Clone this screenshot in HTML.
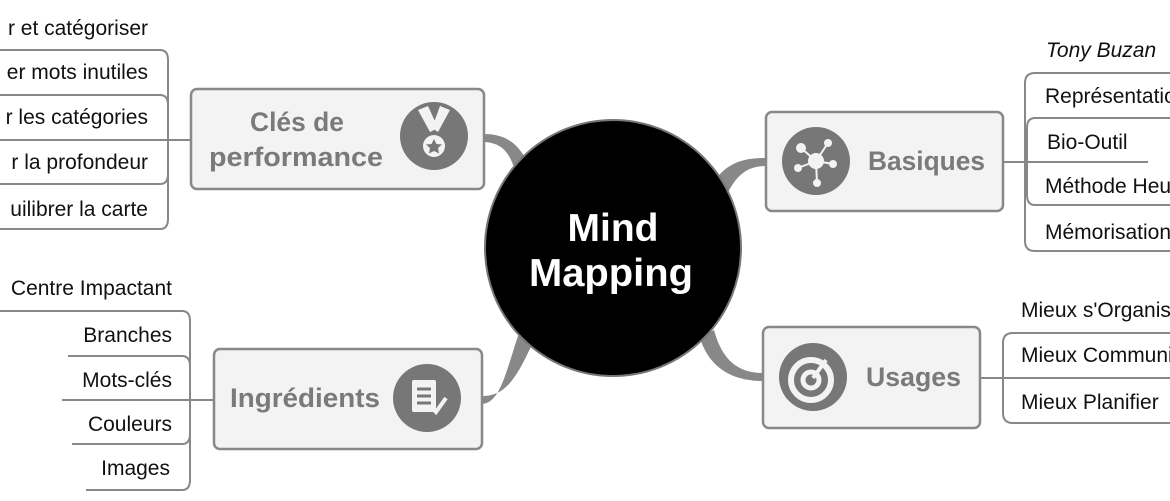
<!DOCTYPE html>
<html><head><meta charset="utf-8"><style>
html,body{margin:0;padding:0;background:#fff;}
svg{display:block}
text{font-family:"Liberation Sans","DejaVu Sans",sans-serif;}
.it{font-size:21px;fill:#111;}
.bt{font-size:27px;font-weight:bold;fill:#7a7a7a;}
</style></head><body>
<svg width="1170" height="501" viewBox="0 0 1170 501" xmlns="http://www.w3.org/2000/svg">
<g fill="#888">
<path d="M484,134 C512,134 524,150 534,178 L518,182 C512,156 505,143 484,142 Z"/>
<path d="M766,158 C740,158 726,164 712,184 L726,196 C736,176 746,166 766,166 Z"/>
<path d="M763,373 C738,373 722,360 714,330 L700,338 C710,370 735,381 763,381 Z"/>
<path d="M482,396 C505,396 516,380 534,340 L518,336 C506,372 500,403 482,404 Z"/>
</g>
<circle cx="613" cy="248" r="128" fill="#000" stroke="#777" stroke-width="2"/>
<text x="613" y="241" text-anchor="middle" font-size="39" font-weight="bold" fill="#fff">Mind</text>
<text x="611" y="286" text-anchor="middle" font-size="39" font-weight="bold" fill="#fff" textLength="164" lengthAdjust="spacingAndGlyphs">Mapping</text>

<g fill="#f3f3f3" stroke="#888" stroke-width="2.5">
<rect x="191" y="89" width="293" height="100" rx="6"/>
<rect x="766" y="112" width="237" height="99" rx="6"/>
<rect x="763" y="327" width="217" height="101" rx="6"/>
<rect x="214" y="349" width="268" height="100" rx="6"/>
</g>
<g fill="#777">
<circle cx="434" cy="136" r="34"/>
<circle cx="816" cy="161" r="34"/>
<circle cx="813" cy="377" r="34"/>
<circle cx="427" cy="398" r="34"/>
</g>
<g fill="#f3f3f3">
<path d="M418,110 L428,106 L438,128 L430,132 Z"/><path d="M450,110 L440,106 L432,128 L438,132 Z"/>
<circle cx="434" cy="146" r="11"/>
<circle cx="816" cy="161" r="8"/><circle cx="801" cy="148" r="5"/><circle cx="828" cy="143" r="4"/><circle cx="798" cy="168" r="4"/><circle cx="833" cy="164" r="4"/><circle cx="817" cy="183" r="4"/>
<rect x="412" y="380" width="24" height="32" rx="2"/>
</g>
<polygon points="434,139 436.5,144 442,144.5 438,148 439,153.5 434,151 429,153.5 430,148 426,144.5 431.5,144" fill="#777"/>
<g stroke="#f3f3f3" stroke-width="2">
<line x1="816" y1="161" x2="801" y2="148"/><line x1="816" y1="161" x2="828" y2="143"/><line x1="816" y1="161" x2="798" y2="168"/><line x1="816" y1="161" x2="833" y2="164"/><line x1="816" y1="161" x2="817" y2="183"/>
</g>
<circle cx="811" cy="380" r="20" fill="none" stroke="#f3f3f3" stroke-width="6"/>
<circle cx="811" cy="380" r="8" fill="none" stroke="#f3f3f3" stroke-width="5"/>
<line x1="813" y1="378" x2="826" y2="360" stroke="#f3f3f3" stroke-width="4"/>
<g stroke="#777" stroke-width="3"><line x1="417" y1="389" x2="431" y2="389"/><line x1="417" y1="396" x2="431" y2="396"/><line x1="417" y1="403" x2="431" y2="403"/></g>
<path d="M430,405 L436,412 L446,398" fill="none" stroke="#f3f3f3" stroke-width="4"/>

<text class="bt" x="250" y="131" textLength="94" lengthAdjust="spacingAndGlyphs">Clés de</text>
<text class="bt" x="209" y="166" textLength="174" lengthAdjust="spacingAndGlyphs">performance</text>
<text class="bt" x="868" y="170" textLength="117" lengthAdjust="spacingAndGlyphs">Basiques</text>
<text class="bt" x="866" y="386" textLength="95" lengthAdjust="spacingAndGlyphs">Usages</text>
<text class="bt" x="230" y="407" textLength="150" lengthAdjust="spacingAndGlyphs">Ingrédients</text>

<g fill="none" stroke="#888" stroke-width="2">
<path d="M0,50 H160 Q168,50 168,60 V219 Q168,229 160,229 H0"/>
<path d="M0,95 H160 Q168,95 168,105 V174 Q168,184 160,184 H0"/>
<line x1="0" y1="140" x2="191" y2="140"/>
<path d="M1170,73 H1035 Q1025,73 1025,83 V241 Q1025,251 1035,251 H1170"/>
<path d="M1170,118 H1035 Q1027,118 1027,128 V195 Q1027,205 1035,205 H1170"/>
<line x1="1003" y1="162" x2="1148" y2="162"/>
<path d="M1170,333 H1013 Q1003,333 1003,343 V413 Q1003,423 1013,423 H1170"/>
<line x1="980" y1="378" x2="1170" y2="378"/>
<path d="M0,311 H182 Q190,311 190,321 V480 Q190,490 182,490 H86"/>
<path d="M68,356 H182 Q190,356 190,366 V434 Q190,444 182,444 H72"/>
<line x1="62" y1="400" x2="214" y2="400"/>
</g>

<text x="148" y="35" text-anchor="end" class="it">r et catégoriser</text>
<text x="148" y="79" text-anchor="end" class="it">er mots inutiles</text>
<text x="148" y="124" text-anchor="end" class="it">r les catégories</text>
<text x="148" y="169" text-anchor="end" class="it">r la profondeur</text>
<text x="148" y="216" text-anchor="end" class="it">uilibrer la carte</text>

<text x="1046" y="57" class="it" font-style="italic">Tony Buzan</text>
<text x="1045" y="103" class="it">Représentation</text>
<text x="1047" y="149" class="it">Bio-Outil</text>
<text x="1045" y="193" class="it">Méthode Heuristique</text>
<text x="1045" y="239" class="it">Mémorisation</text>

<text x="1021" y="317" class="it">Mieux s'Organiser</text>
<text x="1021" y="362" class="it">Mieux Communiquer</text>
<text x="1021" y="409" class="it">Mieux Planifier</text>

<text x="172" y="295" text-anchor="end" class="it">Centre Impactant</text>
<text x="172" y="342" text-anchor="end" class="it">Branches</text>
<text x="172" y="387" text-anchor="end" class="it">Mots-clés</text>
<text x="172" y="431" text-anchor="end" class="it">Couleurs</text>
<text x="170" y="475" text-anchor="end" class="it">Images</text>
</svg>
</body></html>
